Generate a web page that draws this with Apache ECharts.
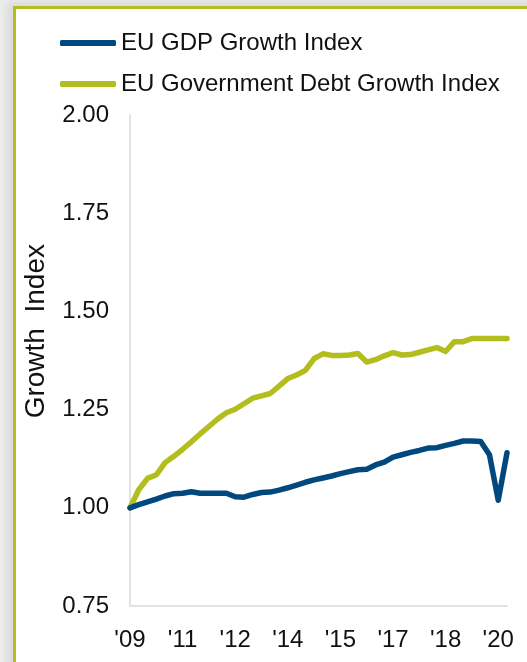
<!DOCTYPE html>
<html>
<head>
<meta charset="utf-8">
<script src="https://cdn.jsdelivr.net/npm/echarts@6/dist/echarts.min.js"></script>
<style>
  html, body { margin: 0; padding: 0; width: 527px; height: 662px; overflow: hidden; background: #ededed; }
  #frame {
    position: absolute; left: 13px; top: 6px; width: 530px; height: 670px;
    background: #fff; border-left: 3px solid #b3bd1c; border-top: 3px solid #b3bd1c;
    box-shadow: -5px -3px 10px rgba(0, 0, 0, 0.10);
  }
  #chart { position: absolute; left: 0; top: 0; width: 527px; height: 662px; }
</style>
</head>
<body>
<div id="frame"></div>
<div id="chart"></div>
<script>
// quarterly, 2009Q4 .. 2020Q3
const quarters = [
  '2009Q4', '2010Q1', '2010Q2', '2010Q3', '2010Q4', '2011Q1', '2011Q2', '2011Q3', '2011Q4',
  '2012Q1', '2012Q2', '2012Q3', '2012Q4', '2013Q1', '2013Q2', '2013Q3', '2013Q4',
  '2014Q1', '2014Q2', '2014Q3', '2014Q4', '2015Q1', '2015Q2', '2015Q3', '2015Q4',
  '2016Q1', '2016Q2', '2016Q3', '2016Q4', '2017Q1', '2017Q2', '2017Q3', '2017Q4',
  '2018Q1', '2018Q2', '2018Q3', '2018Q4', '2019Q1', '2019Q2', '2019Q3', '2019Q4',
  '2020Q1', '2020Q2', '2020Q3',
];

const gdpIndex = [
  1.000, 1.008, 1.015, 1.022, 1.030, 1.036, 1.037, 1.041, 1.037,
  1.037, 1.037, 1.037, 1.028, 1.027, 1.034, 1.039, 1.040,
  1.045, 1.051, 1.058, 1.065, 1.071, 1.076, 1.081, 1.087,
  1.092, 1.097, 1.098, 1.109, 1.116, 1.129, 1.135, 1.141,
  1.146, 1.152, 1.153, 1.159, 1.164, 1.170, 1.170, 1.169,
  1.135, 1.019, 1.140,
];

const debtIndex = [
  1.000, 1.046, 1.075, 1.084, 1.115, 1.131, 1.149, 1.168, 1.188,
  1.207, 1.226, 1.242, 1.251, 1.265, 1.279, 1.285, 1.291,
  1.310, 1.329, 1.338, 1.350, 1.380, 1.392, 1.388, 1.388,
  1.389, 1.393, 1.371, 1.377, 1.387, 1.395, 1.389, 1.390,
  1.396, 1.402, 1.408, 1.398, 1.423, 1.423, 1.431, 1.431,
  1.431, 1.431, 1.431,
];

const yTicks = { min: 0.75, max: 2.0, step: 0.25 };

const COLORS = {
  gdp: '#00487e',
  debt: '#b2be1e',
  axis: '#d9d9d9',
  text: '#111',
};
const FONT = '"Liberation Sans", Arial, sans-serif';

const chart = echarts.init(document.getElementById('chart'), null, { renderer: 'canvas' });

const option = {
  animation: false,
  backgroundColor: 'transparent',
  textStyle: { fontFamily: FONT },
  legend: {
    orient: 'vertical',
    left: 55,
    top: 26,
    itemWidth: 56,
    itemHeight: 6,
    itemGap: 17,
    icon: 'roundRect',
    textStyle: { fontSize: 24, color: COLORS.text, fontFamily: FONT },
    data: ['EU GDP Growth Index', 'EU Government Debt Growth Index'],
  },
  grid: {
    left: 130,
    right: 20,
    top: 115,
    bottom: 56,
    containLabel: false,
  },
  xAxis: {
    type: 'category',
    data: quarters,
    boundaryGap: false,
    axisLine: { lineStyle: { color: COLORS.axis, width: 1.5 } },
    axisTick: { show: false },
    axisLabel: {
      interval: 5,
      margin: 22,
      color: COLORS.text,
      fontSize: 24,
      fontFamily: FONT,
      formatter: (q) => "'" + q.slice(2, 4),
    },
    splitLine: { show: false },
  },
  yAxis: {
    type: 'value',
    min: yTicks.min,
    max: yTicks.max,
    interval: yTicks.step,
    axisLine: { show: true, lineStyle: { color: COLORS.axis, width: 1.5 } },
    axisTick: { show: false },
    axisLabel: {
      margin: 21,
      color: COLORS.text,
      fontSize: 24,
      fontFamily: FONT,
      formatter: (v) => v.toFixed(2),
    },
    splitLine: { show: false },
  },
  graphic: [
    {
      type: 'text',
      left: 22,
      top: 244,
      rotation: Math.PI / 2,
      style: {
        text: 'Growth  Index',
        font: '28px ' + FONT,
        fill: COLORS.text,
      },
    },
  ],
  series: [
    {
      name: 'EU GDP Growth Index',
      type: 'line',
      data: gdpIndex,
      symbol: 'none',
      color: COLORS.gdp,
      lineStyle: { color: COLORS.gdp, width: 5.5, cap: 'round', join: 'round' },
      z: 3,
    },
    {
      name: 'EU Government Debt Growth Index',
      type: 'line',
      data: debtIndex,
      symbol: 'none',
      color: COLORS.debt,
      lineStyle: { color: COLORS.debt, width: 5.5, cap: 'round', join: 'round' },
      z: 2,
    },
  ],
};

chart.setOption(option);
</script>
</body>
</html>
